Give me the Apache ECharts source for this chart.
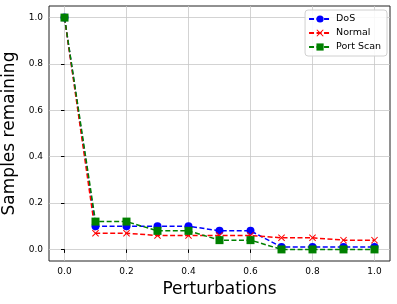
<!DOCTYPE html>
<html><head><meta charset="utf-8">
<script src="https://cdn.jsdelivr.net/npm/echarts@6/dist/echarts.min.js"></script>
<style>html,body{margin:0;padding:0;background:#fff}#c{width:397px;height:304px}</style>
</head><body><div id="c"></div>
<script>
const perturbations = [0.0, 0.1, 0.2, 0.3, 0.4, 0.5, 0.6, 0.7, 0.8, 0.9, 1.0];
const dos = [1.0, 0.10, 0.10, 0.10, 0.10, 0.08, 0.08, 0.01, 0.01, 0.01, 0.01];
const normal = [1.0, 0.07, 0.07, 0.06, 0.06, 0.06, 0.06, 0.05, 0.05, 0.04, 0.04];
const portScan = [1.0, 0.12, 0.12, 0.08, 0.08, 0.04, 0.04, 0.0, 0.0, 0.0, 0.0];
const xTicks = [0.0, 0.2, 0.4, 0.6, 0.8, 1.0];
const yTicks = [0.0, 0.2, 0.4, 0.6, 0.8, 1.0];

const xMark = 'path://M1,0 L5,4 L9,0 L10,1 L6,5 L10,9 L9,10 L5,6 L1,10 L0,9 L4,5 L0,1 Z';
const font = 'DejaVu Sans';
function pts(ys){ return perturbations.map((x,i)=>[x, ys[i]]); }
function mk(name, ys, color, symbol, size){
  return {
    name, type:'line', data: pts(ys), symbol, symbolSize: size,
    lineStyle:{color, width:1.5, type:[5,2.5]},
    itemStyle:{color},
    emphasis:{disabled:true}, animation:false
  };
}
const chart = echarts.init(document.getElementById('c'), null, {renderer:'canvas'});
chart.setOption({
  animation:false,
  textStyle:{fontFamily:font},
  grid:{left:49, right:7, top:6, bottom:43, containLabel:false, outerBoundsMode:'none',
        show:true, borderColor:'#222', borderWidth:1, backgroundColor:'transparent'},
  legend:{
    right:10, top:10, orient:'vertical', itemGap:4, itemWidth:22, itemHeight:9,
    padding:[4,6,4,3], backgroundColor:'rgba(255,255,255,0.85)', borderColor:'#d0d0d0', borderWidth:1, borderRadius:3,
    textStyle:{fontFamily:font, fontSize:9.5, color:'#000'},
    data:['DoS','Normal','Port Scan']
  },
  xAxis:{
    type:'value', min:-0.05, max:1.05,
    name:'Perturbations', nameLocation:'middle', nameGap:20,
    nameTextStyle:{fontFamily:font, fontSize:17, color:'#000'},
    axisLine:{show:false},
    axisTick:{show:true, length:3.5, lineStyle:{color:'#000'}, customValues:xTicks},
    axisLabel:{fontFamily:font, fontSize:9, color:'#000', margin:6, customValues:xTicks, formatter:v=>v.toFixed(1)},
    splitLine:{show:true, lineStyle:{color:'#c8c8c8', width:0.8}}
  },
  yAxis:{
    type:'value', min:-0.05, max:1.05,
    name:'Samples remaining', nameLocation:'middle', nameGap:26,
    nameTextStyle:{fontFamily:font, fontSize:17, color:'#000'},
    axisLine:{show:false},
    axisTick:{show:true, length:3.5, lineStyle:{color:'#000'}, customValues:yTicks},
    axisLabel:{fontFamily:font, fontSize:9, color:'#000', margin:6, customValues:yTicks, formatter:v=>v.toFixed(1)},
    splitLine:{show:true, lineStyle:{color:'#c8c8c8', width:0.8}}
  },
  series:[
    mk('DoS', dos, '#0000ff', 'circle', 8),
    mk('Normal', normal, '#ff0000', xMark, 7),
    mk('Port Scan', portScan, '#008000', 'rect', 8)
  ]
});
</script>
</body></html>
